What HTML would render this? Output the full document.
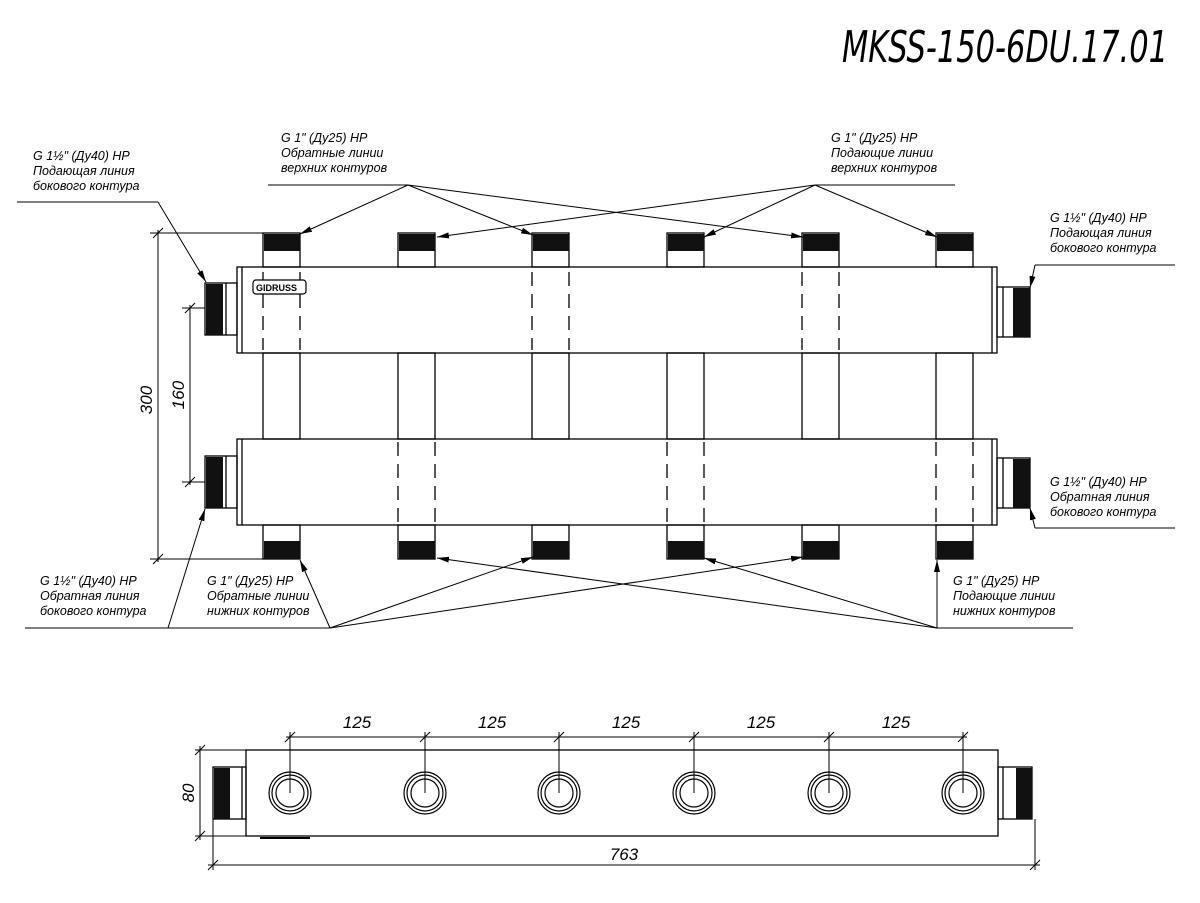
<!DOCTYPE html>
<html><head><meta charset="utf-8"><style>
html,body{margin:0;padding:0;background:#fff;}
svg{display:block;}
text{font-family:"Liberation Sans",sans-serif;font-style:italic;fill:#000;}
.l{font-size:12.5px;}
.t{font-family:"DejaVu Sans ExtraLight","DejaVu Sans","Liberation Sans",sans-serif;font-weight:200;}
</style></head><body>
<svg width="1200" height="903" viewBox="0 0 1200 903" xmlns="http://www.w3.org/2000/svg">
<defs>
<marker id="a" markerWidth="12" markerHeight="6" refX="12" refY="3" orient="auto" markerUnits="userSpaceOnUse"><path d="M0,0 L12,3 L0,6 z" fill="#000"/></marker>
</defs>
<text class="t" x="842" y="62" font-size="44" textLength="326" lengthAdjust="spacingAndGlyphs">MKSS-150-6DU.17.01</text>
<g stroke="#000" stroke-width="1.3" fill="none">
<rect x="237" y="267" width="760" height="86" fill="#fff"/>
<line x1="242" y1="267" x2="242" y2="353"/>
<line x1="992" y1="267" x2="992" y2="353"/>
<rect x="237" y="439" width="760" height="86" fill="#fff"/>
<line x1="242" y1="439" x2="242" y2="525"/>
<line x1="992" y1="439" x2="992" y2="525"/>
<rect x="263" y="353" width="37" height="86"/>
<rect x="398" y="353" width="37" height="86"/>
<rect x="532" y="353" width="37" height="86"/>
<rect x="667" y="353" width="37" height="86"/>
<rect x="802" y="353" width="37" height="86"/>
<rect x="936" y="353" width="37" height="86"/>
<rect x="263" y="233" width="37" height="34"/><rect x="398" y="233" width="37" height="34"/><rect x="532" y="233" width="37" height="34"/><rect x="667" y="233" width="37" height="34"/><rect x="802" y="233" width="37" height="34"/><rect x="936" y="233" width="37" height="34"/>
<rect x="263" y="525" width="37" height="34"/><rect x="398" y="525" width="37" height="34"/><rect x="532" y="525" width="37" height="34"/><rect x="667" y="525" width="37" height="34"/><rect x="802" y="525" width="37" height="34"/><rect x="936" y="525" width="37" height="34"/>
<rect x="205" y="283" width="32" height="52"/><line x1="226" y1="283" x2="226" y2="335"/>
<rect x="205" y="456" width="32" height="52"/><line x1="226" y1="456" x2="226" y2="508"/>
<rect x="997" y="287" width="33" height="50"/><line x1="1003" y1="287" x2="1003" y2="337"/>
<rect x="997" y="458" width="33" height="50"/><line x1="1003" y1="458" x2="1003" y2="508"/>
<g stroke-dasharray="14,8">
<line x1="263" y1="272" x2="263" y2="350"/><line x1="300" y1="272" x2="300" y2="350"/>
<line x1="532" y1="272" x2="532" y2="350"/><line x1="569" y1="272" x2="569" y2="350"/>
<line x1="802" y1="272" x2="802" y2="350"/><line x1="839" y1="272" x2="839" y2="350"/>
<line x1="398" y1="442" x2="398" y2="522"/><line x1="435" y1="442" x2="435" y2="522"/>
<line x1="667" y1="442" x2="667" y2="522"/><line x1="704" y1="442" x2="704" y2="522"/>
<line x1="936" y1="442" x2="936" y2="522"/><line x1="973" y1="442" x2="973" y2="522"/>
</g>
</g>
<g fill="#111">
<rect x="264" y="234" width="36" height="17"/><rect x="399" y="234" width="36" height="17"/><rect x="533" y="234" width="36" height="17"/><rect x="668" y="234" width="36" height="17"/><rect x="803" y="234" width="36" height="17"/><rect x="937" y="234" width="36" height="17"/>
<rect x="264" y="541" width="36" height="18"/><rect x="399" y="541" width="36" height="18"/><rect x="533" y="541" width="36" height="18"/><rect x="668" y="541" width="36" height="18"/><rect x="803" y="541" width="36" height="18"/><rect x="937" y="541" width="36" height="18"/>
<rect x="206" y="284" width="17" height="51"/><rect x="206" y="457" width="17" height="51"/>
<rect x="1013" y="288" width="17" height="49"/><rect x="1013" y="459" width="17" height="49"/>
</g>
<rect x="253" y="280" width="53" height="14" rx="3" fill="#fff" stroke="#000" stroke-width="1.2"/>
<text x="256" y="291" font-size="9" style="font-style:normal;font-weight:bold">GIDRUSS</text>
<g stroke="#000" stroke-width="1" fill="none">
<line x1="150" y1="233" x2="263" y2="233"/><line x1="150" y1="559" x2="263" y2="559"/>
<line x1="158" y1="230" x2="158" y2="562"/>
<line x1="153" y1="238" x2="163" y2="228"/><line x1="153" y1="564" x2="163" y2="554"/>
<line x1="182" y1="308" x2="205" y2="308"/><line x1="182" y1="482" x2="205" y2="482"/>
<line x1="190" y1="305" x2="190" y2="485"/>
<line x1="185" y1="313" x2="195" y2="303"/><line x1="185" y1="487" x2="195" y2="477"/>
</g>
<text transform="translate(152,400) rotate(-90)" font-size="17" text-anchor="middle">300</text>
<text transform="translate(184,395) rotate(-90)" font-size="17" text-anchor="middle">160</text>
<g stroke="#000" stroke-width="1" fill="none">
<polyline points="17,202 158,202"/><line x1="158" y1="202" x2="206" y2="282" marker-end="url(#a)"/>
<line x1="268" y1="185" x2="408" y2="185"/>
<line x1="408" y1="185" x2="300" y2="234" marker-end="url(#a)"/>
<line x1="408" y1="185" x2="533" y2="235" marker-end="url(#a)"/>
<line x1="408" y1="185" x2="803" y2="237" marker-end="url(#a)"/>
<line x1="815" y1="185" x2="955" y2="185"/>
<line x1="815" y1="185" x2="437" y2="237" marker-end="url(#a)"/>
<line x1="815" y1="185" x2="704" y2="237" marker-end="url(#a)"/>
<line x1="815" y1="185" x2="937" y2="237" marker-end="url(#a)"/>
<line x1="1035" y1="265" x2="1175" y2="265"/><line x1="1035" y1="265" x2="1030" y2="288" marker-end="url(#a)"/>
<line x1="1035" y1="528" x2="1175" y2="528"/><line x1="1035" y1="528" x2="1030" y2="508" marker-end="url(#a)"/>
<line x1="25" y1="628" x2="168" y2="628"/><line x1="168" y1="628" x2="205" y2="509" marker-end="url(#a)"/>
<line x1="168" y1="628" x2="330" y2="628"/>
<line x1="330" y1="628" x2="300" y2="560" marker-end="url(#a)"/>
<line x1="330" y1="628" x2="533" y2="557" marker-end="url(#a)"/>
<line x1="330" y1="628" x2="803" y2="557" marker-end="url(#a)"/>
<line x1="937" y1="628" x2="1073" y2="628"/>
<line x1="937" y1="628" x2="937" y2="560" marker-end="url(#a)"/>
<line x1="937" y1="628" x2="437" y2="558" marker-end="url(#a)"/>
<line x1="937" y1="628" x2="704" y2="558" marker-end="url(#a)"/>
</g>
<g class="l">
<text class="l" x="33" y="160">G 1½" (Ду40) НР</text><text class="l" x="33" y="175">Подающая линия</text><text class="l" x="33" y="190">бокового контура</text>
<text class="l" x="281" y="142">G 1" (Ду25) НР</text><text class="l" x="281" y="157">Обратные линии</text><text class="l" x="281" y="172">верхних контуров</text>
<text class="l" x="831" y="142">G 1" (Ду25) НР</text><text class="l" x="831" y="157">Подающие линии</text><text class="l" x="831" y="172">верхних контуров</text>
<text class="l" x="1050" y="222">G 1½" (Ду40) НР</text><text class="l" x="1050" y="237">Подающая линия</text><text class="l" x="1050" y="252">бокового контура</text>
<text class="l" x="1050" y="486">G 1½" (Ду40) НР</text><text class="l" x="1050" y="501">Обратная линия</text><text class="l" x="1050" y="516">бокового контура</text>
<text class="l" x="40" y="585">G 1½" (Ду40) НР</text><text class="l" x="40" y="600">Обратная линия</text><text class="l" x="40" y="615">бокового контура</text>
<text class="l" x="207" y="585">G 1" (Ду25) НР</text><text class="l" x="207" y="600">Обратные линии</text><text class="l" x="207" y="615">нижних контуров</text>
<text class="l" x="953" y="585">G 1" (Ду25) НР</text><text class="l" x="953" y="600">Подающие линии</text><text class="l" x="953" y="615">нижних контуров</text>
</g>
<g stroke="#000" stroke-width="1.3" fill="none">
<rect x="246" y="750" width="752" height="86" fill="#fff"/>
<rect x="213" y="767" width="33" height="52"/><line x1="242" y1="767" x2="242" y2="819"/>
<rect x="998" y="767" width="34" height="52"/><line x1="1003" y1="767" x2="1003" y2="819"/>
<line x1="260" y1="838" x2="310" y2="838" stroke-width="2"/>
</g>
<g fill="#111"><rect x="214" y="768" width="16" height="51"/><rect x="1016" y="768" width="16" height="51"/></g>
<g stroke="#000" stroke-width="1.2" fill="none">
<circle cx="290" cy="793" r="21"/><circle cx="290" cy="793" r="18"/><circle cx="290" cy="793" r="14"/>
<circle cx="425" cy="793" r="21"/><circle cx="425" cy="793" r="18"/><circle cx="425" cy="793" r="14"/>
<circle cx="559" cy="793" r="21"/><circle cx="559" cy="793" r="18"/><circle cx="559" cy="793" r="14"/>
<circle cx="694" cy="793" r="21"/><circle cx="694" cy="793" r="18"/><circle cx="694" cy="793" r="14"/>
<circle cx="829" cy="793" r="21"/><circle cx="829" cy="793" r="18"/><circle cx="829" cy="793" r="14"/>
<circle cx="963" cy="793" r="21"/><circle cx="963" cy="793" r="18"/><circle cx="963" cy="793" r="14"/>
</g>
<g stroke="#000" stroke-width="1" fill="none">
<line x1="286" y1="737" x2="967" y2="737"/>
<line x1="290" y1="732" x2="290" y2="793"/><line x1="425" y1="732" x2="425" y2="793"/><line x1="559" y1="732" x2="559" y2="793"/><line x1="694" y1="732" x2="694" y2="793"/><line x1="829" y1="732" x2="829" y2="793"/><line x1="963" y1="732" x2="963" y2="793"/>
<line x1="285" y1="742" x2="295" y2="732"/><line x1="420" y1="742" x2="430" y2="732"/><line x1="554" y1="742" x2="564" y2="732"/><line x1="689" y1="742" x2="699" y2="732"/><line x1="824" y1="742" x2="834" y2="732"/><line x1="958" y1="742" x2="968" y2="732"/>
<line x1="195" y1="750" x2="246" y2="750"/><line x1="195" y1="836" x2="246" y2="836"/>
<line x1="200" y1="746" x2="200" y2="840"/>
<line x1="195" y1="755" x2="205" y2="745"/><line x1="195" y1="841" x2="205" y2="831"/>
<line x1="213" y1="819" x2="213" y2="870"/><line x1="1035" y1="819" x2="1035" y2="870"/>
<line x1="208" y1="865" x2="1040" y2="865"/>
<line x1="208" y1="870" x2="218" y2="860"/><line x1="1030" y1="870" x2="1040" y2="860"/>
</g>
<g font-size="17" text-anchor="middle">
<text x="357" y="728">125</text><text x="492" y="728">125</text><text x="626" y="728">125</text><text x="761" y="728">125</text><text x="896" y="728">125</text>
<text x="624" y="860">763</text>
</g>
<text transform="translate(194,793) rotate(-90)" font-size="17" text-anchor="middle">80</text>
</svg>
</body></html>
